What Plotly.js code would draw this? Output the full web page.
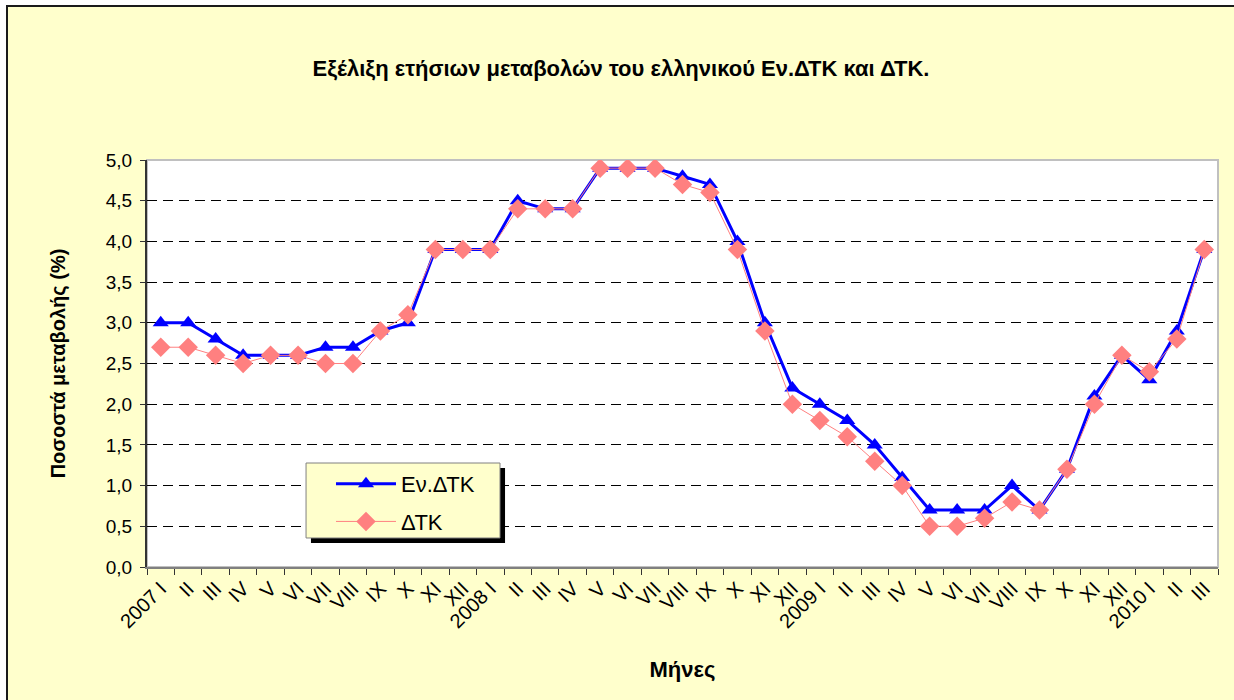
<!DOCTYPE html>
<html>
<head>
<meta charset="utf-8">
<script src="https://cdn.plot.ly/plotly-3.0.1.min.js"></script>
<style>
  html, body { margin: 0; padding: 0; background: #ffffff; width: 1234px; height: 700px; overflow: hidden; }
  #chart { position: absolute; left: 6px; top: 5px; width: 1226px; height: 693px;
           border-left: 2px solid #1a1a1a; border-top: 2px solid #1a1a1a; }
</style>
</head>
<body>
<div id="chart"></div>
<script>
// Month labels (Roman numerals, year shown on January)
const monthLabels = [
  "2007 I","II","III","IV","V","VI","VII","VIII","IX","X","XI","XII",
  "2008 I","II","III","IV","V","VI","VII","VIII","IX","X","XI","XII",
  "2009 I","II","III","IV","V","VI","VII","VIII","IX","X","XI","XII",
  "2010 I","II","III"
];
// Εν.ΔΤΚ (HICP) annual change, %
const hicp = [
  3.0, 3.0, 2.8, 2.6, 2.6, 2.6, 2.7, 2.7, 2.9, 3.0, 3.9, 3.9,
  3.9, 4.5, 4.4, 4.4, 4.9, 4.9, 4.9, 4.8, 4.7, 4.0, 3.0, 2.2,
  2.0, 1.8, 1.5, 1.1, 0.7, 0.7, 0.7, 1.0, 0.7, 1.2, 2.1, 2.6,
  2.3, 2.9, 3.9
];
// ΔΤΚ (CPI) annual change, %
const cpi = [
  2.7, 2.7, 2.6, 2.5, 2.6, 2.6, 2.5, 2.5, 2.9, 3.1, 3.9, 3.9,
  3.9, 4.4, 4.4, 4.4, 4.9, 4.9, 4.9, 4.7, 4.6, 3.9, 2.9, 2.0,
  1.8, 1.6, 1.3, 1.0, 0.5, 0.5, 0.6, 0.8, 0.7, 1.2, 2.0, 2.6,
  2.4, 2.8, 3.9
];
const seriesNames = ["Εν.ΔΤΚ", "ΔΤΚ"];

const xIdx = monthLabels.map((_, i) => i);
const FONT = "Liberation Sans, Arial, sans-serif";

const traces = [
  {
    x: xIdx, y: hicp, name: seriesNames[0], type: "scatter", mode: "lines+markers",
    legendgroup: "a",
    line: { color: "#0000FF", width: 3 },
    marker: { symbol: "triangle-up", size: 14, color: "#0000FF" }
  },
  {
    x: xIdx, y: cpi, name: seriesNames[1], type: "scatter", mode: "lines+markers",
    legendgroup: "b",
    line: { color: "#FF8080", width: 1 },
    marker: { symbol: "diamond", size: 15, color: "#FF8080" }
  }
];

const layout = {
  width: 1226, height: 693,
  margin: { l: 139, r: 16, t: 153, b: 133, pad: 0 },
  paper_bgcolor: "#FFFFCC",
  plot_bgcolor: "#FFFFFF",
  separators: ",.",
  font: { family: FONT, size: 18, color: "#000000" },
  title: {
    text: "<b>Εξέλιξη ετήσιων μεταβολών του ελληνικού Εν.ΔΤΚ και ΔΤΚ.</b>",
    font: { family: FONT, size: 22, color: "#000000" },
    x: 0.5, xref: "container", xanchor: "center",
    y: 0.912, yref: "container", yanchor: "middle"
  },
  xaxis: {
    range: [-0.5, monthLabels.length - 0.5],
    tickmode: "array", tickvals: xIdx, ticktext: monthLabels,
    tickangle: -45, ticks: "", ticklen: 0,
    tickfont: { family: FONT, size: 20, color: "#000000" },
    showgrid: false, zeroline: false,
    showline: true, linecolor: "#808080", linewidth: 2,
    minor: { tick0: -0.5, dtick: 1, ticks: "outside", ticklen: 6, tickcolor: "#333333", tickwidth: 1, showgrid: false },
    title: { text: "<b>Μήνες</b>", font: { family: FONT, size: 22, color: "#000000" }, standoff: 30 },
    fixedrange: true
  },
  yaxis: {
    range: [0, 5], dtick: 0.5, tick0: 0, tickformat: ".1f",
    ticks: "outside", ticklen: 5, tickcolor: "#333333", ticklabelstandoff: 4,
    tickfont: { family: FONT, size: 19, color: "#000000" },
    showgrid: true, gridcolor: "#000000", gridwidth: 1, griddash: "10px,6px",
    zeroline: false,
    showline: true, linecolor: "#333333", linewidth: 2,
    title: { text: "<b>Ποσοστά μεταβολής (%)</b>", font: { family: FONT, size: 20, color: "#000000" }, standoff: 35 },
    fixedrange: true
  },
  showlegend: true,
  legend: {
    x: 0.1718, y: 0.2555, xanchor: "left", yanchor: "top",
    bgcolor: "rgba(0,0,0,0)", borderwidth: 0,
    font: { family: FONT, size: 22, color: "#000000" },
    itemwidth: 60, traceorder: "grouped", tracegroupgap: 6
  },
  shapes: [
    // plot-area frame (top/right light grey)
    { type: "rect", xref: "paper", yref: "paper", x0: 0, x1: 1, y0: 0, y1: 1,
      line: { color: "#C0C0C0", width: 2 }, layer: "below" },
    // legend drop shadow
    { type: "rect", xref: "paper", yref: "paper", x0: 0.1531, x1: 0.3343, y0: 0.0590, y1: 0.2432,
      line: { width: 0 }, fillcolor: "#000000", layer: "above" },
    // legend box
    { type: "rect", xref: "paper", yref: "paper", x0: 0.1485, x1: 0.3296, y0: 0.0713, y1: 0.2555,
      line: { color: "#808080", width: 1 }, fillcolor: "#FFFFCC", layer: "above" }
  ],
  hovermode: false
};

Plotly.newPlot("chart", traces, layout, { displayModeBar: false, staticPlot: true });
</script>
</body>
</html>
